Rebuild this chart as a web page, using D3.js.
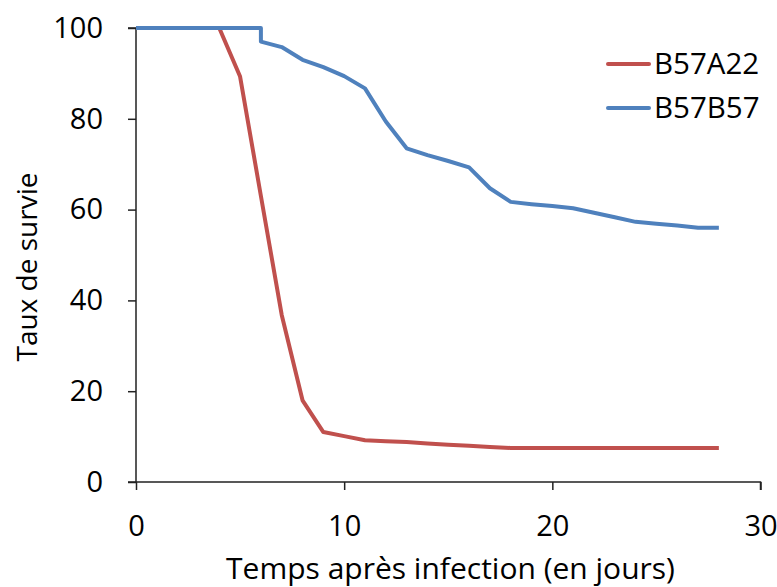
<!DOCTYPE html>
<html>
<head>
<meta charset="utf-8">
<script src="https://cdn.jsdelivr.net/npm/d3@7"></script>
<style>
  html, body { margin: 0; padding: 0; background: #fff; }
  svg text { font-family: "Open Sans", "Noto Sans", sans-serif; fill: #000; }
</style>
</head>
<body>
<svg id="chart" width="777" height="587"></svg>
<script>
// Survival over time after infection, two lines
const seriesNames = ["B57A22", "B57B57"];
const seriesColors = ["#C0504D", "#4F81BD"];

const daysA22 = [4, 5, 6, 7, 8, 9, 10, 11, 12, 13, 14, 15, 16, 17, 18, 19, 20, 21, 22, 23, 24, 25, 26, 27, 28];
const survA22 = [100, 89.3, 63, 36.8, 18, 11, 10.1, 9.2, 9.0, 8.8, 8.5, 8.2, 8.0, 7.7, 7.5, 7.5, 7.5, 7.5, 7.5, 7.5, 7.5, 7.5, 7.5, 7.5, 7.5];

const daysB57 = [0, 6, 6, 7, 8, 9, 10, 11, 12, 13, 14, 15, 16, 17, 18, 19, 20, 21, 22, 23, 24, 25, 26, 27, 28];
const survB57 = [100, 100, 97, 95.8, 93, 91.4, 89.4, 86.7, 79.4, 73.5, 72, 70.7, 69.3, 64.7, 61.7, 61.2, 60.8, 60.3, 59.3, 58.3, 57.3, 56.9, 56.5, 56, 56];

const xTicks = [0, 10, 20, 30];
const yTicks = [0, 20, 40, 60, 80, 100];

const svg = d3.select("#chart");
const plotLeft = 136, plotRight = 760.5, plotTop = 28, plotBottom = 482;

const x = d3.scaleLinear().domain([0, 30]).range([plotLeft, plotRight]);
const y = d3.scaleLinear().domain([0, 100]).range([plotBottom, plotTop]);

// y axis
const yAxis = svg.append("g")
  .attr("transform", `translate(${plotLeft},0)`)
  .call(d3.axisLeft(y).tickValues(yTicks).tickSize(8).tickPadding(25).tickFormat(d3.format("d")));
// x axis
const xAxis = svg.append("g")
  .attr("transform", `translate(0,${plotBottom})`)
  .call(d3.axisBottom(x).tickValues(xTicks).tickSize(8).tickPadding(25).tickFormat(d3.format("d")));

[yAxis, xAxis].forEach(g => {
  g.select(".domain").attr("stroke", "#222").attr("stroke-width", 1.5);
  g.selectAll(".tick line").attr("stroke", "#222").attr("stroke-width", 1.5);
  g.selectAll(".tick text").attr("font-size", 29).attr("font-family", "'Open Sans', sans-serif").attr("fill", "#000");
});
// x baseline extends left to the y-axis tick length
yAxis.select(".domain").attr("d", `M-8,${plotTop}H0V${plotBottom}`);
xAxis.select(".domain").attr("d", `M${plotLeft - 8},0H${plotRight}V8`);

const line = d3.line().x(d => x(d[0])).y(d => y(d[1]));

const dataA = daysA22.map((d, i) => [d, survA22[i]]);
const dataB = daysB57.map((d, i) => [d, survB57[i]]);

svg.append("path").datum(dataA)
  .attr("d", line).attr("fill", "none")
  .attr("stroke", seriesColors[0]).attr("stroke-width", 4).attr("stroke-linejoin", "round");
svg.append("path").datum(dataB)
  .attr("d", line).attr("fill", "none")
  .attr("stroke", seriesColors[1]).attr("stroke-width", 4).attr("stroke-linejoin", "round");

// legend
const legend = svg.append("g");
seriesNames.forEach((name, i) => {
  const ly = 64 + i * 44;
  legend.append("line").attr("x1", 608).attr("x2", 649).attr("y1", ly).attr("y2", ly)
    .attr("stroke", seriesColors[i]).attr("stroke-width", 4).attr("stroke-linecap", "round");
  legend.append("text").attr("x", 654).attr("y", ly + 10)
    .attr("font-size", 29.5).text(name);
});

// axis titles
svg.append("text").attr("x", 450.5).attr("y", 579)
  .attr("text-anchor", "middle").attr("font-size", 30)
  .text("Temps après infection (en jours)");
svg.append("text")
  .attr("transform", `translate(37,267) rotate(-90)`)
  .attr("text-anchor", "middle").attr("font-size", 28)
  .text("Taux de survie");
</script>
</body>
</html>
